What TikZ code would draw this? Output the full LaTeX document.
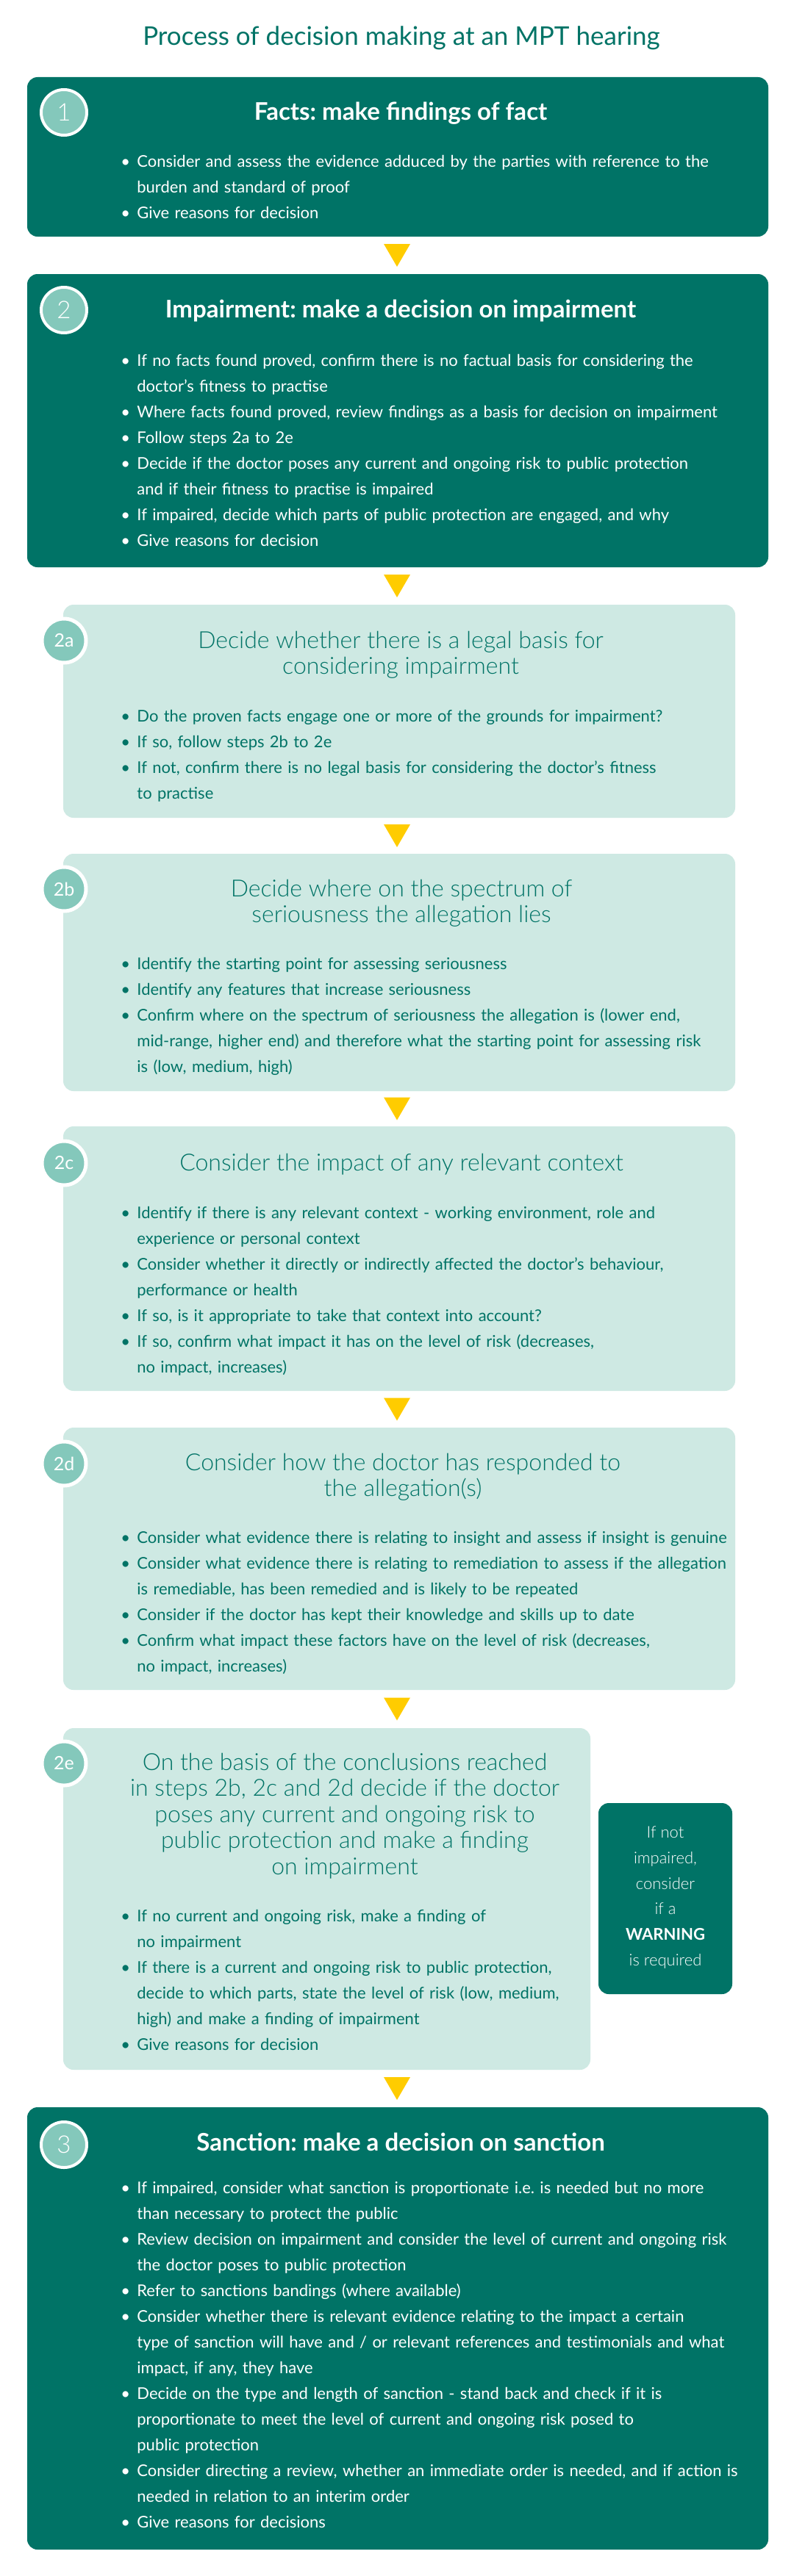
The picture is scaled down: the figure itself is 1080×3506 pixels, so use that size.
\documentclass[tikz,border=0pt]{standalone}
\usepackage{fontspec}
\setmainfont{Lato}
\newfontfamily\latolight{Lato Light}
\usetikzlibrary{fit,calc}
\frenchspacing
\definecolor{dteal}{HTML}{007366}
\definecolor{lteal}{HTML}{CEE9E3}
\definecolor{cteal}{HTML}{84C8BB}
\definecolor{ayellow}{HTML}{FFCC00}
\newcommand{\bi}[1]{\par\leftskip=11pt\noindent\hspace*{-11pt}\makebox[11pt][l]{\rule{0pt}{10pt}\textbullet}#1}
\newcommand{\yarrow}[3]{%
  \coordinate (#3) at ($(#1.south)!0.5!(#2.north)$);
  \fill[ayellow, shift={(midaxis |- #3)}] (-18,-15.5) -- (18,-15.5) -- (0,15.5) -- cycle;}
\tikzset{
  x=0.5pt, y=-0.5pt,
  darkbox/.style={fill=dteal, rounded corners=7pt, inner sep=0pt, draw=none},
  lightbox/.style={fill=lteal, rounded corners=7pt, inner sep=0pt, draw=none},
  bignum/.style={circle, fill=cteal, draw=white, line width=2pt, minimum size=31pt, inner sep=0pt, text=white, font=\latolight\fontsize{16.5}{16.5}\selectfont},
  smallnum/.style={circle, fill=cteal, draw=white, line width=2.5pt, minimum size=30pt, inner sep=0pt, text=white, font=\fontsize{12.5}{12.5}\selectfont},
  boldhead/.style={anchor=base, inner sep=0pt, text=white, font=\bfseries\fontsize{16.5}{20}\selectfont},
  lighthead/.style={anchor=north, inner sep=0pt, text=dteal, align=center, font=\latolight\fontsize{16}{17.75}\selectfont},
  blist/.style={anchor=north west, inner sep=0pt, text width=480pt, align=left, font=\fontsize{11}{17.5}\selectfont},
  wlist/.style={blist, text=white},
  tlist/.style={blist, text=dteal},
}
\begin{document}
\begin{tikzpicture}
\useasboundingbox (0,0) rectangle (1080,3506);
\fill[white] (0,0) rectangle (1080,3506);
\coordinate (midaxis) at (540,0);

% title
\node[anchor=base, inner sep=0pt, text=dteal, font=\fontsize{17.5}{20}\selectfont] (title) at (546,62) {Process of decision making at an MPT hearing};

% boxes
\node[darkbox, fit={(37,105) (1045,322)}] (b1) {};
\node[darkbox, fit={(37,373) (1045,772)}] (b2) {};
\node[lightbox, fit={(86,823) (1000,1113)}] (b2a) {};
\node[lightbox, fit={(86,1162) (1000,1485)}] (b2b) {};
\node[lightbox, fit={(86,1533) (1000,1893)}] (b2c) {};
\node[lightbox, fit={(86,1943) (1000,2300)}] (b2d) {};
\node[lightbox, fit={(86,2352) (803,2817)}] (b2e) {};
\node[darkbox, fit={(814,2454) (996,2714)}] (warn) {};
\node[darkbox, fit={(37,2868) (1045,3470)}] (b3) {};

% arrows
\yarrow{b1}{b2}{m1}
\yarrow{b2}{b2a}{m2}
\yarrow{b2a}{b2b}{m3}
\yarrow{b2b}{b2c}{m4}
\yarrow{b2c}{b2d}{m5}
\yarrow{b2d}{b2e}{m6}
\yarrow{b2e}{b3}{m7}

% number circles
\node[bignum] (n1) at (87,153) {1};
\node[bignum] (n2) at (87,422) {2};
\node[smallnum] (n2a) at (87,872) {2a};
\node[smallnum] (n2b) at (87,1210) {2b};
\node[smallnum] (n2c) at (87,1583) {2c};
\node[smallnum] (n2d) at (87,1992) {2d};
\node[smallnum] (n2e) at (87,2400) {2e};
\node[bignum] (n3) at (87,2919) {3};

% headings
\node[boldhead] (h1) at (545,163) {Facts: make findings of fact};
\node[boldhead] (h2) at (545,432) {Impairment: make a decision on impairment};
\node[lighthead] (h2a) at (545,852) {\rule{0pt}{15pt}Decide whether there is a legal basis for\\considering impairment};
\node[lighthead] (h2b) at (546,1190) {\rule{0pt}{15pt}Decide where on the spectrum of\\seriousness the allegation lies};
\node[lighthead] (h2c) at (546,1563) {\rule{0pt}{15pt}Consider the impact of any relevant context};
\node[lighthead] (h2d) at (548,1971) {\rule{0pt}{15pt}Consider how the doctor has responded to\\the allegation(s)};
\node[lighthead] (h2e) at (469,2379) {\rule{0pt}{15pt}On the basis of the conclusions reached\\in steps 2b, 2c and 2d decide if the doctor\\poses any current and ongoing risk to\\public protection and make a finding\\on impairment};
\node[boldhead] (h3) at (545,2927) {Sanction: make a decision on sanction};

% bullet lists
\node[wlist] (l1) at (164,192) {%
\bi{Consider and assess the evidence adduced by the parties with reference to the\newline burden and standard of proof}
\bi{Give reasons for decision}\par};

\node[wlist] (l2) at (164,463) {%
\bi{If no facts found proved, confirm there is no factual basis for considering the\newline doctor's fitness to practise}
\bi{Where facts found proved, review findings as a basis for decision on impairment}
\bi{Follow steps 2a to 2e}
\bi{Decide if the doctor poses any current and ongoing risk to public protection\newline and if their fitness to practise is impaired}
\bi{If impaired, decide which parts of public protection are engaged, and why}
\bi{Give reasons for decision}\par};

\node[tlist] (l2a) at (164,947) {%
\bi{Do the proven facts engage one or more of the grounds for impairment?}
\bi{If so, follow steps 2b to 2e}
\bi{If not, confirm there is no legal basis for considering the doctor's fitness\newline to practise}\par};

\node[tlist] (l2b) at (164,1284) {%
\bi{Identify the starting point for assessing seriousness}
\bi{Identify any features that increase seriousness}
\bi{Confirm where on the spectrum of seriousness the allegation is (lower end,\newline mid-range, higher end) and therefore what the starting point for assessing risk\newline is (low, medium, high)}\par};

\node[tlist] (l2c) at (164,1623) {%
\bi{Identify if there is any relevant context - working environment, role and\newline experience or personal context}
\bi{Consider whether it directly or indirectly affected the doctor's behaviour,\newline performance or health}
\bi{If so, is it appropriate to take that context into account?}
\bi{If so, confirm what impact it has on the level of risk (decreases,\newline no impact, increases)}\par};

\node[tlist] (l2d) at (164,2065) {%
\bi{Consider what evidence there is relating to insight and assess if insight is genuine}
\bi{Consider what evidence there is relating to remediation to assess if the allegation\newline is remediable, has been remedied and is likely to be repeated}
\bi{Consider if the doctor has kept their knowledge and skills up to date}
\bi{Confirm what impact these factors have on the level of risk (decreases,\newline no impact, increases)}\par};

\node[tlist] (l2e) at (164,2580) {%
\bi{If no current and ongoing risk, make a finding of\newline no impairment}
\bi{If there is a current and ongoing risk to public protection,\newline decide to which parts, state the level of risk (low, medium,\newline high) and make a finding of impairment}
\bi{Give reasons for decision}\par};

\node[anchor=north, inner sep=0pt, text=white, align=center, font=\latolight\fontsize{11}{17.4}\selectfont] (wtext) at (905,2481) {\rule{0pt}{10pt}If not\\impaired,\\consider\\if a\\{\normalfont\bfseries WARNING}\\is required};

\node[wlist] (l3) at (164,2950) {%
\bi{If impaired, consider what sanction is proportionate i.e. is needed but no more\newline than necessary to protect the public}
\bi{Review decision on impairment and consider the level of current and ongoing risk\newline the doctor poses to public protection}
\bi{Refer to sanctions bandings (where available)}
\bi{Consider whether there is relevant evidence relating to the impact a certain\newline type of sanction will have and / or relevant references and testimonials and what\newline impact, if any, they have}
\bi{Decide on the type and length of sanction - stand back and check if it is\newline proportionate to meet the level of current and ongoing risk posed to\newline public protection}
\bi{Consider directing a review, whether an immediate order is needed, and if action is\newline needed in relation to an interim order}
\bi{Give reasons for decisions}\par};
\end{tikzpicture}
\end{document}
